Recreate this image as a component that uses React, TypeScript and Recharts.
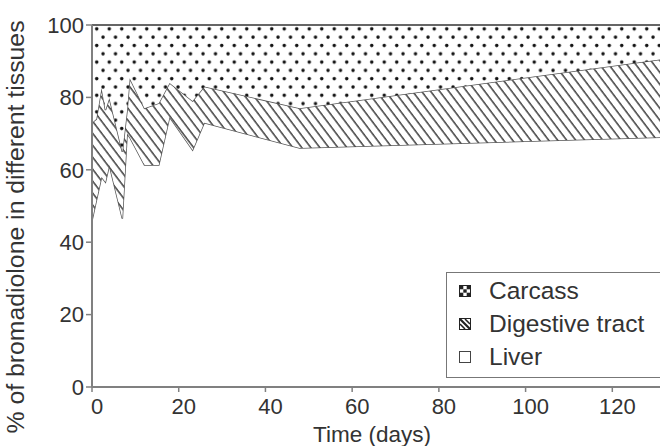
import React from 'react';
import { AreaChart, Area, XAxis, YAxis } from 'recharts';

// Time (days)
const days = [0, 1, 2.2, 3.1, 4, 7, 8.1, 8.7, 12.1, 15.4, 17.9, 23.2, 25.9, 47.9, 131];
// % in liver (bottom layer)
const liver = [46, 51.5, 58, 56.6, 61.3, 46.5, 70, 69, 61.3, 61.3, 74.6, 65.5, 73, 66, 69];
// % in digestive tract (middle layer)
const digestive = [27, 22.5, 24.6, 19.9, 18.5, 18.5, 6.5, 16.3, 15.7, 17.1, 9.4, 13.5, 10, 11, 21.5];
// % in carcass (top layer)
const carcass = [27, 26, 17.4, 23.5, 20.2, 35, 23.5, 14.7, 23, 21.6, 16, 21, 17, 23, 9.5];

const xTicks = [0, 20, 40, 60, 80, 100, 120];
const yTicks = [0, 20, 40, 60, 80, 100];
const legendNames = ['Carcass', 'Digestive tract', 'Liver'];

const data = days.map((d, i) => ({
  day: d,
  liver: liver[i],
  digestive: digestive[i],
  carcass: carcass[i],
}));

const FONT = '"Liberation Sans", Arial, sans-serif';
const AXIS = '#808080';
const TEXT = '#333';

const LegendIcon = ({ kind }: { kind: string }) => {
  if (kind === 'Carcass') {
    return (
      <svg width={12} height={12} style={{ display: 'block' }}>
        <rect x={0.5} y={0.5} width={11} height={11} fill="#fff" stroke="#222" />
        <rect x={1} y={1} width={3.3} height={3.3} fill="#222" />
        <rect x={7.7} y={1} width={3.3} height={3.3} fill="#222" />
        <rect x={4.3} y={4.3} width={3.4} height={3.4} fill="#222" />
        <rect x={1} y={7.7} width={3.3} height={3.3} fill="#222" />
        <rect x={7.7} y={7.7} width={3.3} height={3.3} fill="#222" />
      </svg>
    );
  }
  if (kind === 'Digestive tract') {
    return (
      <svg width={12} height={12} style={{ display: 'block' }}>
        <rect x={0.5} y={0.5} width={11} height={11} fill="#fff" stroke="#222" />
        <line x1={1} y1={1} x2={11} y2={11} stroke="#222" strokeWidth={2.2} />
        <line x1={1} y1={6} x2={6} y2={11} stroke="#222" strokeWidth={1.6} />
        <line x1={6} y1={1} x2={11} y2={6} stroke="#222" strokeWidth={1.6} />
      </svg>
    );
  }
  return (
    <svg width={12} height={12} style={{ display: 'block' }}>
      <rect x={0.5} y={0.5} width={11} height={11} fill="#fff" stroke="#444" />
    </svg>
  );
};

const LegendBox = () => (
  <div
    style={{
      position: 'absolute',
      left: 446,
      top: 272,
      width: 216,
      height: 106,
      boxSizing: 'border-box',
      border: '1.5px solid #777',
      background: '#fff',
      fontFamily: FONT,
      fontSize: 24.5,
      color: TEXT,
    }}
  >
    {legendNames.map((name, i) => (
      <div
        key={name}
        style={{
          position: 'absolute',
          left: 12,
          top: 4 + i * 33,
          height: 28,
          display: 'flex',
          alignItems: 'center',
          whiteSpace: 'nowrap',
        }}
      >
        <LegendIcon kind={name} />
        <span style={{ marginLeft: 18, lineHeight: '28px' }}>{name}</span>
      </div>
    ))}
  </div>
);

const YLabel = () => (
  <text
    x={15}
    y={227}
    transform="rotate(-90 15 227)"
    textAnchor="middle"
    dominantBaseline="central"
    fontFamily={FONT}
    fontSize={24.8}
    fill={TEXT}
  >
    % of bromadiolone in different tissues
  </text>
);

const XLabel = () => (
  <text
    x={372}
    y={442}
    textAnchor="middle"
    fontFamily={FONT}
    fontSize={22.5}
    fill={TEXT}
  >
    Time (days)
  </text>
);

export default function App() {
  return (
    <div style={{ position: 'absolute', left: 0, top: 0, width: 660, height: 446, background: '#fff' }}>
      <AreaChart
        width={660}
        height={446}
        data={data}
        margin={{ top: 25, right: 0, bottom: 0, left: 0 }}
      >
        <defs>
          <pattern id="dots" width={12.5} height={16.6} patternUnits="userSpaceOnUse">
            <rect width={12.5} height={16.6} fill="#fff" />
            <circle cx={3} cy={4} r={1.75} fill="#111" />
            <circle cx={9.25} cy={12.3} r={1.75} fill="#111" />
          </pattern>
          <pattern
            id="hatch"
            width={7.2}
            height={7.2}
            patternUnits="userSpaceOnUse"
            patternTransform="rotate(-37)"
          >
            <rect width={7.2} height={7.2} fill="#fff" />
            <line x1={1} y1={0} x2={1} y2={7.2} stroke="#333" strokeWidth={1.4} />
          </pattern>
        </defs>
        <XAxis
          dataKey="day"
          type="number"
          domain={[0, 131]}
          ticks={xTicks}
          allowDataOverflow
          height={59}
          stroke={AXIS}
          strokeWidth={2}
          tickSize={5}
          tickMargin={6}
          tick={{ fill: TEXT, fontSize: 22, fontFamily: FONT, dx: 5 }}
          tickLine={{ stroke: AXIS, strokeWidth: 1.5 }}
          label={{ content: () => <XLabel /> }}
        />
        <YAxis
          type="number"
          domain={[0, 100]}
          ticks={yTicks}
          width={92}
          stroke={AXIS}
          strokeWidth={2}
          tickSize={6}
          tickMargin={2}
          tick={{ fill: TEXT, fontSize: 22, fontFamily: FONT }}
          tickLine={{ stroke: AXIS, strokeWidth: 1.5 }}
          label={{ content: () => <YLabel /> }}
        />
        <Area
          type="linear"
          dataKey="liver"
          stackId="a"
          fill="#fff"
          fillOpacity={1}
          stroke="#555"
          strokeWidth={1.5}
          isAnimationActive={false}
          dot={false}
          activeDot={false}
        />
        <Area
          type="linear"
          dataKey="digestive"
          stackId="a"
          fill="url(#hatch)"
          fillOpacity={1}
          stroke="#555"
          strokeWidth={1.5}
          isAnimationActive={false}
          dot={false}
          activeDot={false}
        />
        <Area
          type="linear"
          dataKey="carcass"
          stackId="a"
          fill="url(#dots)"
          fillOpacity={1}
          stroke="#666"
          strokeWidth={2}
          isAnimationActive={false}
          dot={false}
          activeDot={false}
        />
      </AreaChart>
      <LegendBox />
    </div>
  );
}
